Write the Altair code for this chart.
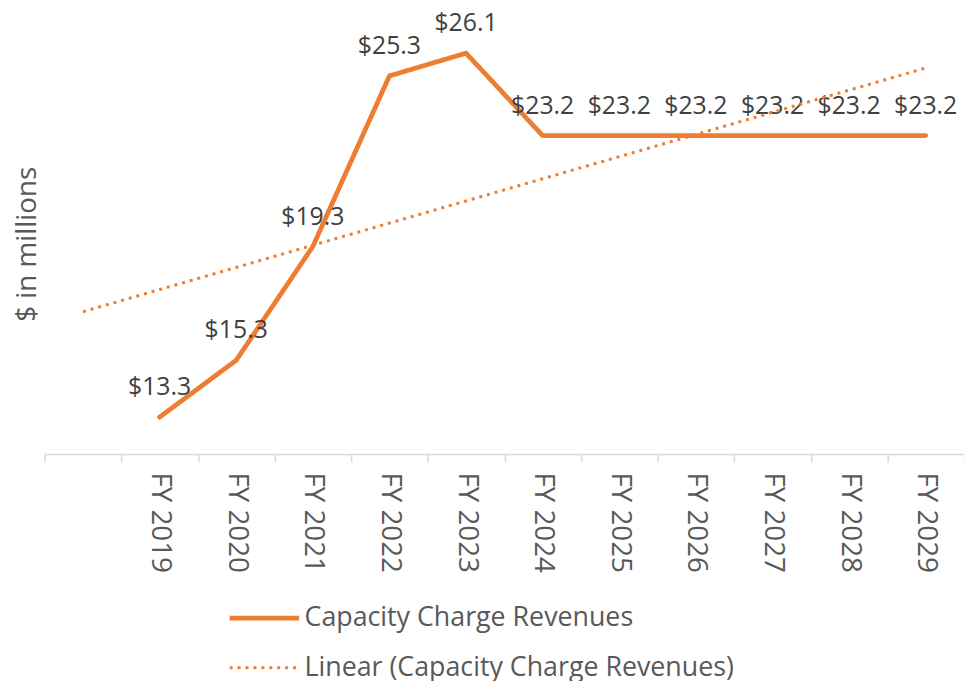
import altair as alt
import pandas as pd

# ---- data ----
categories = ["", "FY 2019", "FY 2020", "FY 2021", "FY 2022", "FY 2023", "FY 2024",
              "FY 2025", "FY 2026", "FY 2027", "FY 2028", "FY 2029"]
revenues = [None, 13.3, 15.3, 19.3, 25.3, 26.1, 23.2, 23.2, 23.2, 23.2, 23.2, 23.2]
series_names = ["Capacity Charge Revenues", "Linear (Capacity Charge Revenues)"]

ORANGE = "#ED7D31"
FONT = "Open Sans"
GREY_TXT = "#595959"

df = pd.DataFrame({"cat": categories, "value": revenues})

x_enc = alt.X(
    "cat:N",
    scale=alt.Scale(type="band", domain=categories, paddingInner=0, paddingOuter=0, round=False),
    axis=alt.Axis(
        title=None, labelAngle=90, labelAlign="left", labelBaseline="middle",
        labelFont=FONT, labelFontSize=28, labelColor=GREY_TXT, labelPadding=10,
        tickBand="extent", tickSize=8, tickColor="#D9D9D9", tickWidth=1.5,
        domainColor="#D9D9D9", domainWidth=1.5, grid=False,
    ),
)
y_scale = alt.Scale(domain=[12.0, 27.45], nice=False, zero=False)
y_axis = alt.Axis(
    title="$ in millions", domain=False, ticks=False, labels=False, grid=False,
    titleFont=FONT, titleFontSize=28, titleFontWeight="normal", titleColor=GREY_TXT,
    titleAngle=-90, titleX=-17, titleY=231, titleAlign="center", titleBaseline="middle",
)

legend = alt.Legend(
    title=None, orient="none", legendX=184, legendY=571, direction="vertical",
    symbolType="stroke", symbolSize=4900, labelFont=FONT, labelFontSize=27,
    labelColor=GREY_TXT, labelOffset=3, labelLimit=0, rowPadding=-29, padding=0,
)

color = alt.Color("series:N", scale=alt.Scale(domain=series_names, range=[ORANGE, ORANGE]), legend=legend)
dash = alt.StrokeDash("series:N", scale=alt.Scale(domain=series_names, range=[[1, 0], [3, 5]]), legend=legend)
swidth = alt.StrokeWidth("series:N", scale=alt.Scale(domain=series_names, range=[4.8, 3]), legend=legend)

base = alt.Chart(df)

line = (
    base.transform_filter("isValid(datum.value)")
    .transform_calculate(series="'Capacity Charge Revenues'")
    .mark_line(strokeCap="round", strokeJoin="round")
    .encode(x=x_enc, y=alt.Y("value:Q", scale=y_scale, axis=y_axis),
            color=color, strokeDash=dash, strokeWidth=swidth)
)

labels = (
    base.transform_filter("isValid(datum.value)")
    .transform_calculate(label="'$' + format(datum.value, '.1f')")
    .mark_text(dy=-30, font=FONT, fontSize=25, color="#404040")
    .encode(x=x_enc, y=alt.Y("value:Q", scale=y_scale), text="label:N")
)

# Linear trendline (least squares on category index), extended over the whole axis
trend = (
    base.transform_window(xi="row_number()")
    .transform_calculate(xv="isValid(datum.value) ? datum.xi : null")
    .transform_joinaggregate(mx="mean(xv)", my="mean(value)")
    .transform_calculate(
        dxy="isValid(datum.value) ? (datum.xi - datum.mx) * (datum.value - datum.my) : null",
        dxx="isValid(datum.value) ? (datum.xi - datum.mx) * (datum.xi - datum.mx) : null",
    )
    .transform_joinaggregate(sxy="sum(dxy)", sxx="sum(dxx)")
    .transform_calculate(
        trend="datum.my + datum.sxy / datum.sxx * (datum.xi - datum.mx)",
        series="'Linear (Capacity Charge Revenues)'",
    )
    .mark_line()
    .encode(x=x_enc, y=alt.Y("trend:Q", scale=y_scale),
            color=color, strokeDash=dash, strokeWidth=swidth)
)

chart = (
    alt.layer(line, labels, trend)
    .properties(
        width=927, height=443,
        padding={"left": 37, "top": 4, "right": 0, "bottom": 226},
        autosize=alt.AutoSizeParams(type="none"),
    )
    .configure_view(stroke=None)
)

chart.save("out.html", embed_options={"renderer": "svg", "actions": False})
